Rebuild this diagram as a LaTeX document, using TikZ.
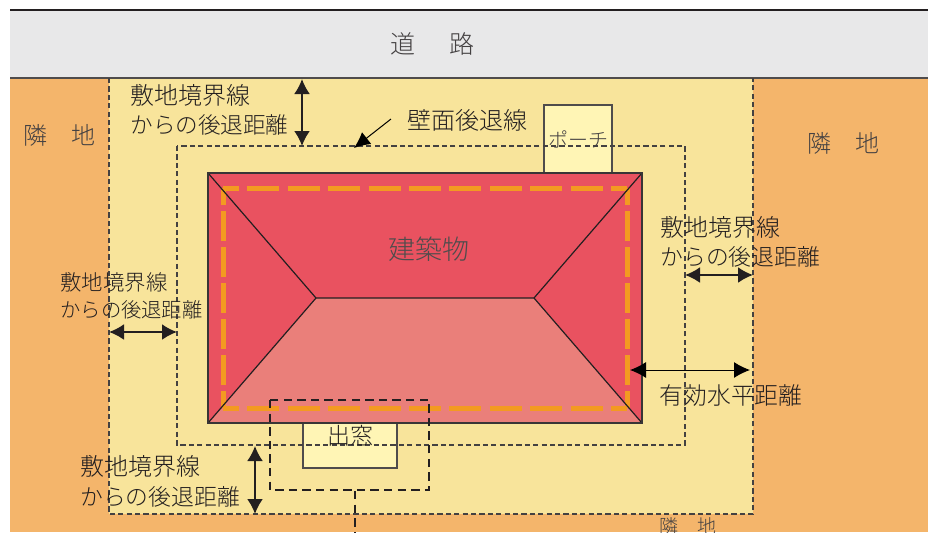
\documentclass[tikz,border=0pt]{standalone}
\usepackage{fontspec}
\usetikzlibrary{arrows.meta}
\setmainfont{Noto Sans CJK JP}[UprightFont=* Light]
\definecolor{linha}{HTML}{231F20}
\definecolor{viaCor}{HTML}{E8E8E9}
\definecolor{vizinhoCor}{HTML}{F4B56B}
\definecolor{terrenoCor}{HTML}{F8E49B}
\definecolor{anexoCor}{HTML}{FFF5B5}
\definecolor{telhadoCor}{HTML}{E95260}
\definecolor{frenteCor}{HTML}{EA7F7A}
\definecolor{beiralCor}{HTML}{F39A21}
\tikzset{
  fino/.style={draw=linha!85,line width=.55pt,dash pattern=on 2.6pt off 1.6pt},
  grosso/.style={draw=linha,line width=1pt,dash pattern=on 4.2pt off 2.6pt},
  beiral/.style={draw=beiralCor,line width=2.5pt},
  cota/.style={draw=linha,line width=1pt,{Latex[length=7.5pt,width=8pt]}-{Latex[length=7.5pt,width=8pt]}},
  seta/.style={draw=black,line width=.5pt,-{Latex[length=8pt,width=7.5pt]}},
  rotulo/.style={inner sep=0pt,text=linha,align=left},
}
\begin{document}
\begin{tikzpicture}[x=.5pt,y=-.5pt]
\useasboundingbox (0,0) rectangle (928,532);
\fill[white] (0,0) rectangle (928,532);

% fundo
\fill[vizinhoCor] (10,78) rectangle (928,532);
\fill[terrenoCor] (109,78) rectangle (753,514);
\fill[viaCor] (10,10) rectangle (928,78);
\draw[linha,line width=.75pt] (10,10) -- (928,10);
\draw[linha!80,line width=.75pt] (10,78) -- (928,78);

% divisa do terreno
\draw[fino] (109,78) -- (109,514) -- (753,514) -- (753,78);

% anexos
\draw[linha!80,line width=.6pt,fill=anexoCor] (544,173) -- (544,105) -- (612,105) -- (612,173);
\draw[linha!80,line width=.6pt,fill=anexoCor] (303,423) -- (303,468) -- (397,468) -- (397,423);

% recuo da parede
\draw[fino] (177,146) rectangle (685,445);

% telhado
\fill[telhadoCor] (208,173) rectangle (642,423);
\fill[frenteCor] (208,423) -- (316,298) -- (534,298) -- (642,423) -- cycle;

% beiral
\draw[beiral,dash pattern=on 16pt off 4.2pt,dash phase=8pt] (223,188) -- (627,188);
\draw[beiral,dash pattern=on 16pt off 4.2pt,dash phase=8pt] (223,408) -- (627,408);
\draw[beiral,dash pattern=on 15pt off 3pt,dash phase=6.5pt] (223,188) -- (223,408);
\draw[beiral,dash pattern=on 15pt off 3pt,dash phase=6.5pt] (627,188) -- (627,408);

% arestas
\draw[linha,line width=.6pt] (208,173) -- (316,298) -- (534,298) -- (642,173);
\draw[linha,line width=.6pt] (208,423) -- (316,298);
\draw[linha,line width=.6pt] (642,423) -- (534,298);
\draw[linha!90,line width=.9pt] (208,173) rectangle (642,423);

% janela saliente
\draw[grosso] (270,400) rectangle (429,490);
\draw[grosso] (355,491) -- (355,532);

% cotas
\foreach \n/\ax/\ay/\bx/\by in {a/302/79/302/146, b/109/332/177/332, c/685/275/753/275, d/255/446/255/514} {
  \coordinate (\n1) at (\ax,\ay);
  \coordinate (\n2) at (\bx,\by);
  \draw[cota] (\n1) -- (\n2);
}
\coordinate (e1) at (630,370);
\coordinate (e2) at (750,370);
\draw[seta,{Latex[length=8pt,width=8pt]}-{Latex[length=8pt,width=8pt]}] (e1) -- (e2);
\coordinate (f1) at (391,119);
\coordinate (f2) at (354,148);
\draw[seta] (f1) -- (f2);

% rotulos de recuo
\foreach \n/\px/\py/\sa/\sb/\ex in {ra/130/84/12/11.3/2.5, rb/60/272/10.7/10.15/1.5, rc/660/216/12/11.4/2.5, rd/80/455/12/11.4/3} {
  \node[rotulo,anchor=north west] (\n) at (\px,\py)
    {\fontsize{\sa}{15}\selectfont 敷地境界線\\[\ex pt]\fontsize{\sb}{15}\selectfont からの後退距離};
}

% demais textos
\node[rotulo,font=\fontsize{12.5}{15}\selectfont,text=linha!85] (via) at (432,44) {道\hspace{17pt}路};
\node[rotulo,font=\fontsize{12}{15}\selectfont,text=linha!85] (viz1) at (60,135) {隣\hspace{12pt}地};
\node[rotulo,font=\fontsize{12}{15}\selectfont,text=linha!85] (viz2) at (843,143) {隣\hspace{12pt}地};
\node[rotulo,font=\fontsize{9.5}{12}\selectfont,text=linha!85] (viz3) at (688,526) {隣\hspace{9.5pt}地};
\node[rotulo,font=\fontsize{12}{15}\selectfont] (parede) at (467,120) {壁面後退線};
\node[rotulo,font=\fontsize{10}{12}\selectfont,text=linha!85] (porch) at (578,139) {ポーチ};
\node[rotulo,font=\fontsize{13.5}{16}\selectfont,text=linha!80] (casa) at (429,249) {建築物};
\node[rotulo,font=\fontsize{11.5}{14}\selectfont] (janela) at (350,436) {出窓};
\node[rotulo,font=\fontsize{11.9}{14}\selectfont] (efetivo) at (731,395) {有効水平距離};

\end{tikzpicture}
\end{document}
